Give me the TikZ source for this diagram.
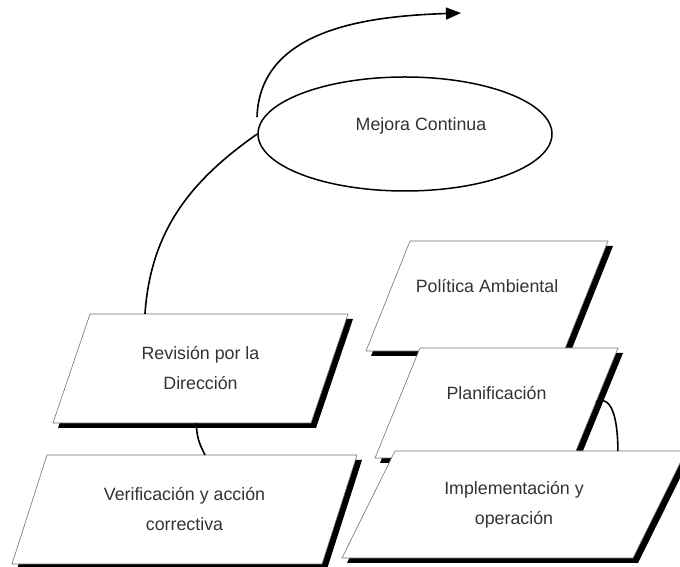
\documentclass[tikz,border=0pt]{standalone}
\usepackage{fontspec}
\setmainfont{Liberation Sans}
\usetikzlibrary{shapes.geometric,arrows.meta,positioning,calc}

% texto de una sola linea, algo por encima del centro
\newcommand{\arriba}[1]{#1\\[-10pt]\mbox{}}
% etapa: nombre, x sup. izq., y sup. izq., ancho, alto, inclinacion, texto
\newcommand{\etapa}[7]{%
    \coordinate (#1-si) at (#2,#3);
    \coordinate (#1-sd) at (#2+#4,#3);
    \coordinate (#1-id) at (#2+#4-#6,#3-#5);
    \coordinate (#1-ii) at (#2-#6,#3-#5);
    \fill[sombra] ([shift={(5,-5)}]#1-si) -- ([shift={(5,-5)}]#1-sd) -- ([shift={(5,-5)}]#1-id) -- ([shift={(5,-5)}]#1-ii) -- cycle;
    \filldraw[caja] (#1-si) -- (#1-sd) -- (#1-id) -- (#1-ii) -- cycle;
    \node[texto] (#1) at ($(#1-si)!0.5!(#1-id)$) {#7};
}

\begin{document}
\begin{tikzpicture}[x=1pt, y=1pt,
    caja/.style={fill=white, draw=black!55, line width=0.6pt},
    sombra/.style={fill=black},
    texto/.style={align=center, inner sep=0pt, font=\fontsize{17.8}{30}\selectfont, text=black!80},
    ciclo/.style={ellipse, draw, line width=1.5pt, fill=white, inner sep=0pt, minimum width=294pt, minimum height=114pt, align=center, font=\fontsize{17.8}{30}\selectfont, text=black!80},
    enlace/.style={line width=1.6pt}
]
\useasboundingbox (0,0) rectangle (680,567);
\clip (0,0) rectangle (680,567);

    % Etapas del ciclo
    \etapa{pol}{410}{326}{198}{110}{44}{\arriba{Política Ambiental}}
    \etapa{plan}{420}{219}{198}{110}{45}{\arriba{Planificación}}
    \etapa{rev}{90}{253}{258}{109}{37}{Revisión por la\\Dirección}
    \etapa{verif}{47}{112}{310}{109}{35}{Verificación y acción\\correctiva}
    \etapa{impl}{395}{116}{291}{107}{53}{Implementación y\\operación}

    % Mejora continua
    \node[ciclo] (mejora) at (405,433) {\arriba{\hspace*{32pt}Mejora Continua}};
    \coordinate (inicio) at (257,450);
    \coordinate (punta) at (461,554);

    % Conexiones
    \draw[enlace] ($(rev-si)!0.213!(rev-sd)$) to[out=86, in=215] (mejora.west);
    \draw[enlace, -{Triangle[length=15pt, width=12pt]}] (inicio) to[out=88, in=182] (punta);
    \draw[enlace] ($(rev-ii)!0.556!(rev-id)$) to[out=-90, in=118] ($(verif-si)!0.51!(verif-sd)$);
    \draw[enlace] ($(plan-sd)!0.49!(plan-id)$) to[out=25, in=90] ($(impl-si)!0.766!(impl-sd)$);

\end{tikzpicture}
\end{document}
